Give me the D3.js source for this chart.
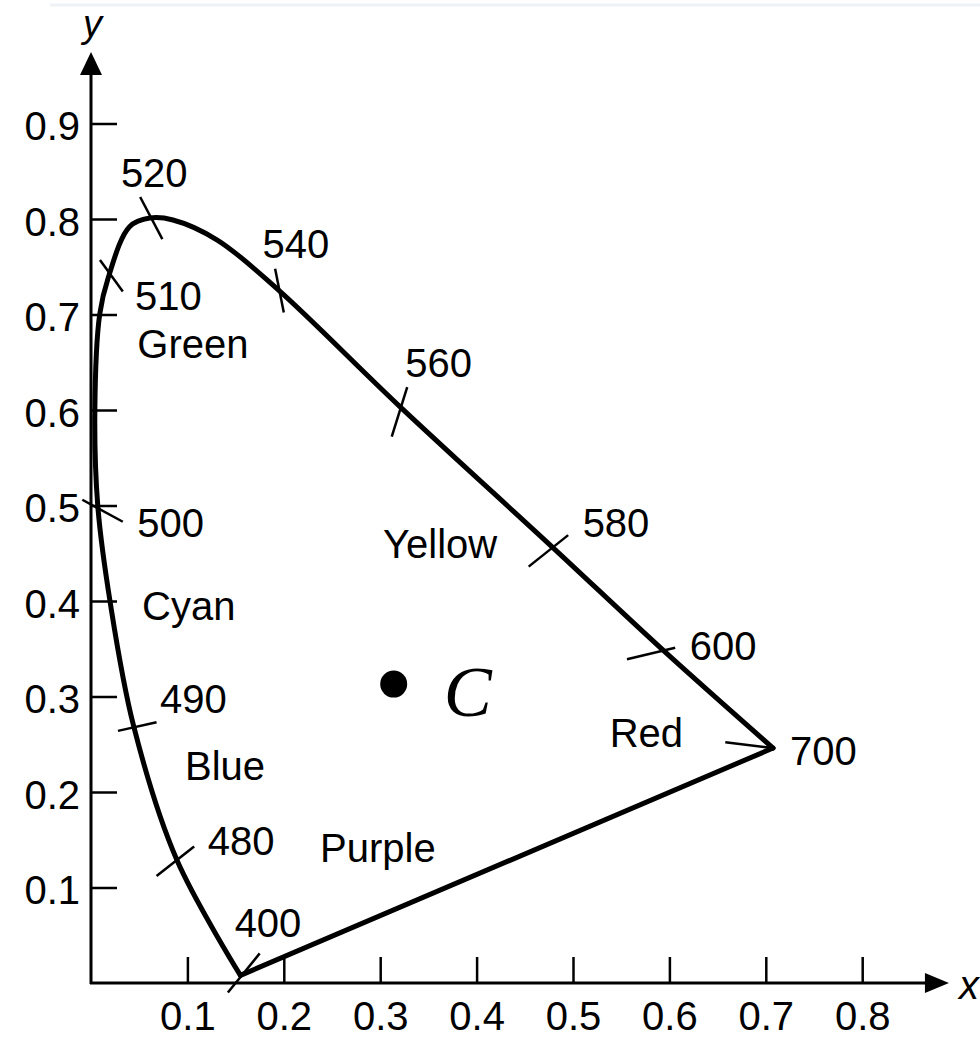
<!DOCTYPE html>
<html>
<head>
<meta charset="utf-8">
<script src="https://cdn.jsdelivr.net/npm/d3@7"></script>
<style>
  body { margin: 0; background: #fff; }
  svg { display: block; }
</style>
</head>
<body>
<div id="chart"></div>
<script>
// spectral locus (from 400 nm round to 700 nm)
var locusX = [0.155, 0.089, 0.044, 0.020, 0.007, 0.004, 0.009, 0.018, 0.040, 0.061, 0.085, 0.131, 0.194, 0.321, 0.478, 0.594, 0.7075]
var locusY = [0.008, 0.129, 0.270, 0.398, 0.500, 0.600, 0.700, 0.739, 0.792, 0.801, 0.799, 0.778, 0.726, 0.603, 0.457, 0.348, 0.246]

// wavelength marks: tick ends and label anchor, in chart units
var waveNames = ["400", "480", "490", "500", "510", "520", "540", "560", "580", "600", "700"]
var waveTicks = [
  [0.175, 0.031, 0.142, -0.010],
  [0.068, 0.112, 0.107, 0.143],
  [0.028, 0.264, 0.068, 0.273],
  [-0.009, 0.506, 0.033, 0.483],
  [0.0093, 0.757, 0.033, 0.724],
  [0.051, 0.823, 0.074, 0.779],
  [0.191, 0.748, 0.200, 0.702],
  [0.328, 0.624, 0.312, 0.572],
  [0.495, 0.469, 0.454, 0.436],
  [0.556, 0.339, 0.606, 0.351],
  [0.658, 0.252, 0.7075, 0.246]
]
var waveLabelX = [0.149, 0.121, 0.0716, 0.048, 0.0456, 0.031, 0.178, 0.326, 0.510, 0.621, 0.725]
var waveLabelY = [0.048, 0.134, 0.283, 0.467, 0.705, 0.834, 0.759, 0.635, 0.467, 0.338, 0.228]

// colour region names
var regionNames = ["Green", "Cyan", "Blue", "Purple", "Yellow", "Red"]
var regionX = [0.048, 0.053, 0.0975, 0.2376, 0.303, 0.538]
var regionY = [0.654, 0.380, 0.2126, 0.1267, 0.445, 0.247]

// illuminant C
var whiteX = 0.314, whiteY = 0.313

var xTicks = [0.1, 0.2, 0.3, 0.4, 0.5, 0.6, 0.7, 0.8]
var yTicks = [0.1, 0.2, 0.3, 0.4, 0.5, 0.6, 0.7, 0.8, 0.9]

var width = 980, height = 1040
var sans = "Liberation Sans, Arial, Helvetica, sans-serif"
var fontSize = 40

var x = d3.scaleLinear().domain([0, 0.89]).range([91, 91 + 0.89 * 964])
var y = d3.scaleLinear().domain([0, 0.975]).range([983, 983 - 0.975 * 955])

var svg = d3.select("#chart").append("svg")
  .attr("width", width)
  .attr("height", height)
  .style("font-family", sans)

// faint scan edge at the top
svg.append("line")
  .attr("x1", 50).attr("x2", width)
  .attr("y1", 5).attr("y2", 5)
  .attr("stroke", "#eef1f5")
  .attr("stroke-width", 3)

var xAxis = d3.axisBottom(x)
  .tickValues(xTicks)
  .tickSizeInner(-26)
  .tickSizeOuter(0)
  .tickPadding(20)
  .tickFormat(d3.format(".1f"))

var yAxis = d3.axisLeft(y)
  .tickValues(yTicks)
  .tickSizeInner(-26)
  .tickSizeOuter(0)
  .tickPadding(11)
  .tickFormat(d3.format(".1f"))

var gx = svg.append("g")
  .attr("transform", "translate(0," + y(0) + ")")
  .call(xAxis)
var gy = svg.append("g")
  .attr("transform", "translate(" + x(0) + ",0)")
  .call(yAxis)

;[gx, gy].forEach(function (g) {
  g.attr("font-family", null).attr("font-size", null)
  g.select(".domain").remove()
  g.selectAll(".tick line").attr("stroke", "#000").attr("stroke-width", 2.5)
  g.selectAll(".tick text")
    .attr("font-size", fontSize)
    .attr("fill", "#000")
})
gy.selectAll(".tick text").attr("dy", "0.4em")
gx.selectAll(".tick text").attr("dy", "0.68em")

// axis lines with arrow heads
var x0 = x(0), y0 = y(0), xEnd = x.range()[1], yEnd = y.range()[1]
svg.append("line")
  .attr("x1", x0 - 1).attr("x2", xEnd - 20)
  .attr("y1", y0).attr("y2", y0)
  .attr("stroke", "#000").attr("stroke-width", 3)
svg.append("line")
  .attr("x1", x0).attr("x2", x0)
  .attr("y1", y0 + 1).attr("y2", yEnd + 20)
  .attr("stroke", "#000").attr("stroke-width", 3)
svg.append("path")
  .attr("d", "M" + xEnd + "," + y0 + "L" + (xEnd - 24) + "," + (y0 - 10) + "L" + (xEnd - 24) + "," + (y0 + 10) + "Z")
  .attr("fill", "#000")
svg.append("path")
  .attr("d", "M" + x0 + "," + yEnd + "L" + (x0 - 11) + "," + (yEnd + 23) + "L" + (x0 + 11) + "," + (yEnd + 23) + "Z")
  .attr("fill", "#000")

svg.append("text")
  .attr("x", xEnd + 10).attr("y", y0 + 16)
  .attr("font-size", 40).attr("font-style", "italic")
  .text("x")
svg.append("text")
  .attr("x", x0 - 8).attr("y", 37)
  .attr("font-size", 38).attr("font-style", "italic")
  .text("y")

// spectral locus and purple line
var locus = locusX.map(function (d, i) { return [d, locusY[i]] })
var line = d3.line()
  .x(function (d) { return x(d[0]) })
  .y(function (d) { return y(d[1]) })

svg.append("path")
  .datum(locus)
  .attr("d", line.curve(d3.curveCatmullRom.alpha(0.5)))
  .attr("fill", "none")
  .attr("stroke", "#000")
  .attr("stroke-width", 5)
  .attr("stroke-linejoin", "round")
  .attr("stroke-linecap", "round")

svg.append("path")
  .datum([locus[locus.length - 1], locus[0]])
  .attr("d", line.curve(d3.curveLinear))
  .attr("fill", "none")
  .attr("stroke", "#000")
  .attr("stroke-width", 5)
  .attr("stroke-linecap", "round")

// wavelength ticks and labels
svg.selectAll(".wtick")
  .data(waveTicks)
  .enter().append("line")
  .attr("class", "wtick")
  .attr("x1", function (d) { return x(d[0]) })
  .attr("y1", function (d) { return y(d[1]) })
  .attr("x2", function (d) { return x(d[2]) })
  .attr("y2", function (d) { return y(d[3]) })
  .attr("stroke", "#000")
  .attr("stroke-width", 2.5)

svg.selectAll(".wlabel")
  .data(waveNames)
  .enter().append("text")
  .attr("class", "wlabel")
  .attr("x", function (d, i) { return x(waveLabelX[i]) })
  .attr("y", function (d, i) { return y(waveLabelY[i]) })
  .attr("font-size", fontSize)
  .text(function (d) { return d })

svg.selectAll(".region")
  .data(regionNames)
  .enter().append("text")
  .attr("class", "region")
  .attr("x", function (d, i) { return x(regionX[i]) })
  .attr("y", function (d, i) { return y(regionY[i]) })
  .attr("font-size", fontSize)
  .text(function (d) { return d })

// white point
svg.append("circle")
  .attr("cx", x(whiteX))
  .attr("cy", y(whiteY))
  .attr("r", 13.5)
  .attr("fill", "#000")

svg.append("text")
  .attr("x", x(whiteX) + 50)
  .attr("y", y(whiteY) + 32)
  .style("font-family", "Liberation Serif, DejaVu Serif, serif")
  .attr("font-style", "italic")
  .attr("font-size", 72)
  .text("C")
</script>
</body>
</html>
